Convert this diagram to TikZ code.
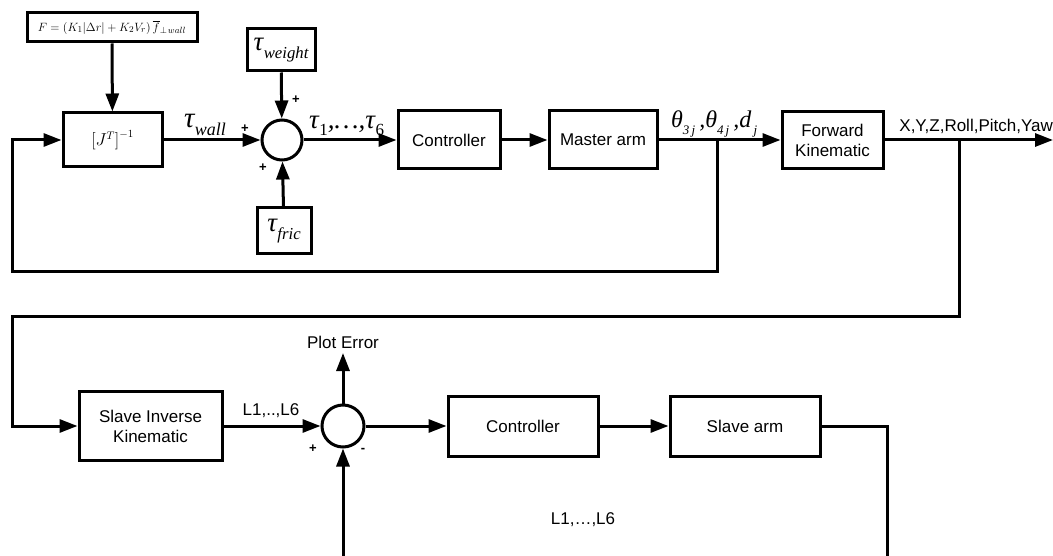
\documentclass[tikz,border=0pt]{standalone}
\usepackage{fontspec}
\setmainfont{Liberation Sans}
\newfontfamily\tms{Liberation Serif}
\usetikzlibrary{arrows.meta}
\newcommand\Tsub[3]{{\tms\itshape\fontsize{#1}{#1}\selectfont #2\kern0.5pt\raisebox{-0.28em}{\fontsize{0.62\dimexpr #1pt\relax}{10}\selectfont #3}}}
\begin{document}
\begin{tikzpicture}[x=1pt,y=-1pt,
  lw/.style={line width=3pt},
  blk/.style={draw, lw, inner sep=0pt, align=center, font=\fontsize{17}{20}\selectfont},
  sumc/.style={draw, lw, circle, minimum size=#1, inner sep=0pt},
  con/.style={lw, -{Triangle[length=18pt,width=13pt]}},
  ln/.style={lw},
  lab/.style={inner sep=0pt, font=\fontsize{17}{20}\selectfont},
  pm/.style={inner sep=0pt, font=\fontsize{13}{13}\selectfont\bfseries}]
\useasboundingbox (0,0) rectangle (1053,556);
% ---------- upper loop ----------
\node[blk, minimum width=170pt, minimum height=29pt] (F) at (112,27.5)
  {\fontsize{12.8}{16}\selectfont$F=\bigl(K_1\bigl|\Delta r\bigr|+K_2V_r\bigr)\,\overline{f}_{\perp\mkern2mu wall}$};
\node[blk, minimum width=99pt, minimum height=54pt] (J) at (112.5,140)
  {\fontsize{16}{18}\selectfont$\bigl[J^{T}\bigr]^{-1}$};
\node[sumc=40pt] (S1) at (282,140) {};
\node[blk, minimum width=68pt, minimum height=42pt] (TW) at (281,50) {\Tsub{27}{τ}{weight}};
\node[blk, minimum width=54pt, minimum height=46pt] (TF) at (284,231) {\Tsub{27}{τ}{fric}};
\node[blk, minimum width=102pt, minimum height=58pt] (C1) at (449,140) {Controller};
\node[blk, minimum width=108pt, minimum height=58pt] (MA) at (603,140) {Master arm};
\node[blk, minimum width=101pt, minimum height=57pt] (FK) at (832.5,140) {Forward\\Kinematic};
\coordinate (out) at (1053,140);
\coordinate (j1) at (717,140);
\coordinate (j2) at (959,140);
\coordinate (b1) at (717,272);
\coordinate (b2) at (12,272);
\coordinate (b3) at (12,140);

\draw[con] (F) -- (J);
\draw[con] (J) -- (S1);
\draw[con] (TW) -- (S1);
\draw[con] (TF) -- (S1);
\draw[con] (S1) -- (C1);
\draw[con] (C1) -- (MA);
\draw[con] (MA) -- (FK);
\draw[con] (FK) -- (out);
\draw[con] (j1) -- (b1) -- (b2) -- (b3) -- (J);

\node[lab] at (205,125) {\Tsub{29}{τ}{wall}};
\node[pm] at (245,129) {+};
\node[pm] at (296,100) {+};
\node[pm] at (263,168) {+};
\node[lab, anchor=west] at (309,126) {\tms\itshape\fontsize{27}{27}\selectfont τ\kern0.5pt\raisebox{-0.25em}{\upshape\fontsize{17}{17}\selectfont 1},…,τ\kern0.5pt\raisebox{-0.25em}{\upshape\fontsize{17}{17}\selectfont 6}};
\node[lab, anchor=west] at (671,124) {\tms\itshape\fontsize{24}{24}\selectfont θ\raisebox{-0.3em}{\fontsize{13}{13}\selectfont 3\,j}\,,θ\raisebox{-0.3em}{\fontsize{13}{13}\selectfont 4\,j}\,,d\raisebox{-0.3em}{\fontsize{13}{13}\selectfont\,j}};
\node[lab, anchor=east] at (1053,126) {X,Y,Z,Roll,Pitch,Yaw};

% ---------- lower loop ----------
\node[blk, minimum width=143pt, minimum height=69pt] (SIK) at (150.5,426) {Slave Inverse\\Kinematic};
\node[sumc=42pt] (S2) at (343,426) {};
\node[blk, minimum width=150pt, minimum height=60pt] (C2) at (523,426) {Controller};
\node[blk, minimum width=150pt, minimum height=60pt] (SA) at (745,426) {Slave arm};
\coordinate (pe) at (343,353);
\coordinate (c1) at (959,317);
\coordinate (c2) at (12,317);
\coordinate (c3) at (12,426);
\coordinate (d1) at (887,426);
\coordinate (d2) at (887,556);
\coordinate (e1) at (343,556);

\draw[con] (j2) -- (c1) -- (c2) -- (c3) -- (SIK);
\draw[con] (SIK) -- (S2);
\draw[con] (S2) -- (pe);
\draw[con] (S2) -- (C2);
\draw[con] (C2) -- (SA);
\draw[ln] (SA.east) -- (d1) -- (d2);
\draw[con] (e1) -- (S2);

\node[lab, anchor=south] at (343,349) {Plot Error};
\node[lab] at (271,411) {L1,..,L6};
\node[pm] at (313,449) {+};
\node[pm] at (363,450) {-};
\node[lab] at (583,520) {L1,…,L6};
\end{tikzpicture}
\end{document}
